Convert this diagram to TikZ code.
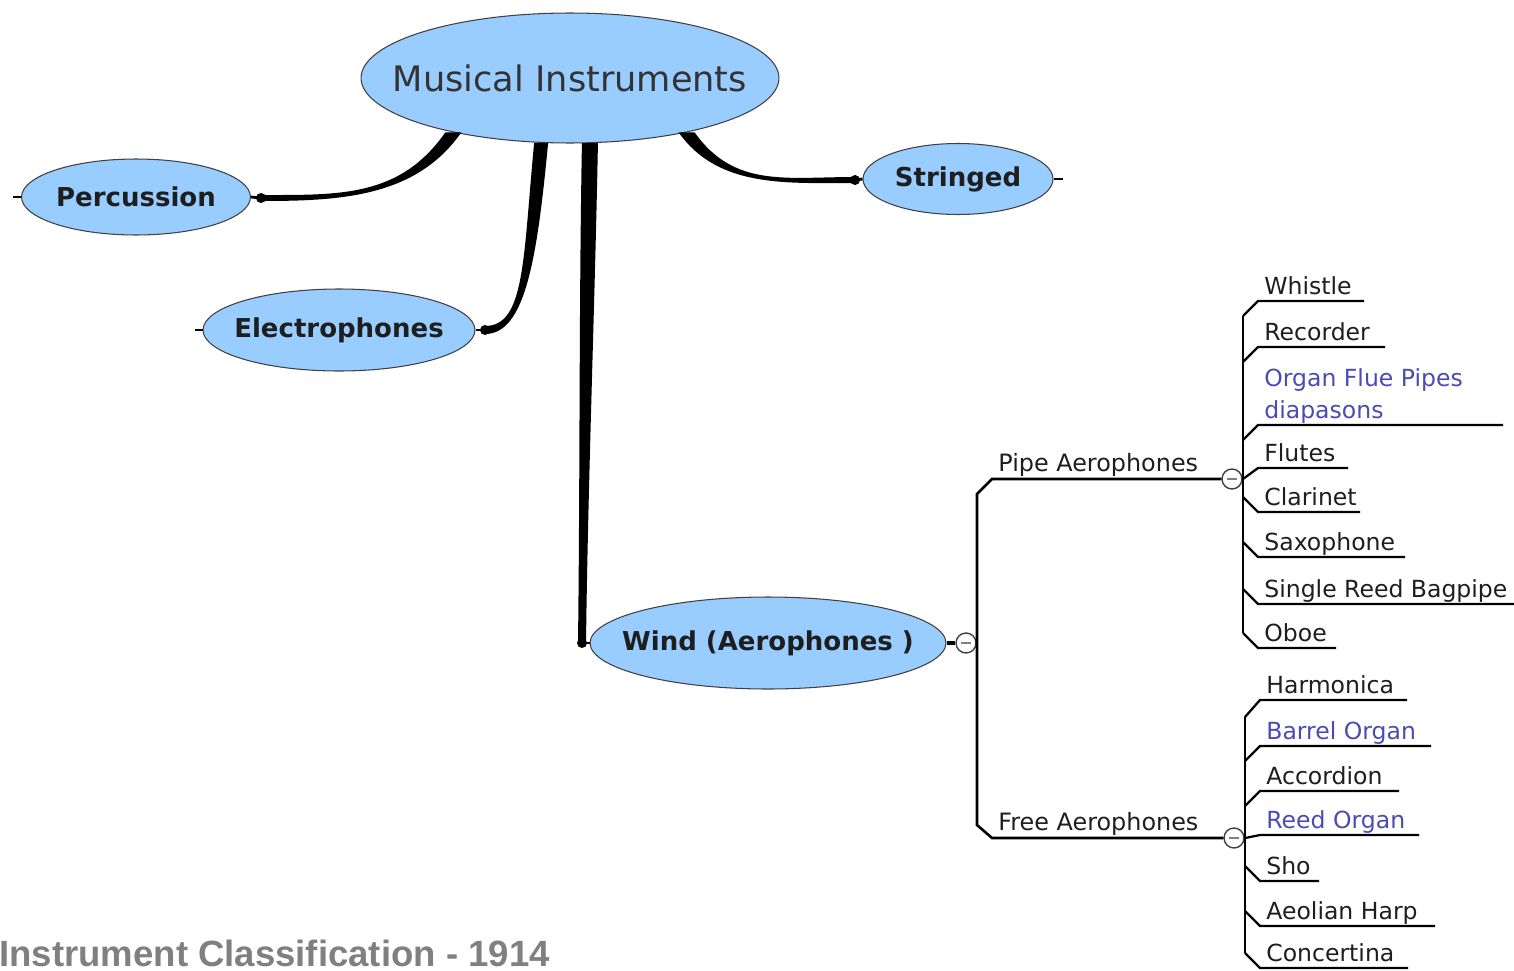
\documentclass[tikz,border=0pt]{standalone}
\usepackage{fontspec}
\setmainfont{DejaVu Sans}
\newfontfamily\capfont{Liberation Sans}
\usetikzlibrary{shapes.geometric,positioning,calc}
\definecolor{bubble}{HTML}{99CCFF}
\definecolor{linkblue}{HTML}{4B4BB4}
\definecolor{ink}{HTML}{1E1E1E}
\definecolor{capgray}{HTML}{808080}

% tapered branch: {from}{control 1}{control 2}{to}{half width at from}{half width at to}
\newcommand\taper[6]{%
  \fill ($(#1)+(#5)$) .. controls ($(#2)+(#5)$) and ($(#3)+(#6)$) .. ($(#4)+(#6)$)
    -- ($(#4)-(#6)$) .. controls ($(#3)-(#6)$) and ($(#2)-(#5)$) .. ($(#1)-(#5)$) -- cycle;}

\tikzset{
  topic/.style={ellipse, draw=black!75, line width=0.6pt, fill=bubble, inner sep=0pt, text=ink},
  subtopic/.style={topic, font=\bfseries\fontsize{14.8}{16}\selectfont},
  knob/.style={circle, fill=black, inner sep=0pt, minimum size=0.2cm},
  stub/.style={line width=1.6pt},
  toggle/.style={circle, draw=black!75, fill=white, line width=0.8pt, inner sep=0pt,
    minimum size=0.4cm,
    path picture={\draw[black!50, line width=1.6pt]
      ([xshift=-0.1cm]path picture bounding box.center) --
      ([xshift=0.1cm]path picture bounding box.center);}},
  twig/.style={line width=1.3pt},
  leaf/.style={anchor=base west, inner sep=0pt, align=left, text=ink,
    font=\fontsize{13.4}{18}\selectfont},
}

\begin{document}
\begin{tikzpicture}[x=0.02cm, y=-0.02cm]
  \useasboundingbox (0,0) rectangle (1514,970);

  % topics
  \node[topic, minimum width=8.36cm, minimum height=2.6cm, text=black!80,
    font=\fontsize{20}{24}\selectfont] (mi) at (570,78) {\makebox[0pt]{Musical Instruments}};
  \node[subtopic, minimum width=4.58cm, minimum height=1.52cm] (perc) at (136,197) {\makebox[0pt]{Percussion}};
  \node[subtopic, minimum width=3.8cm, minimum height=1.42cm] (string) at (958,179) {\makebox[0pt]{Stringed}};
  \node[subtopic, minimum width=5.44cm, minimum height=1.64cm] (elec) at (339,330) {\makebox[0pt]{Electrophones}};
  \node[subtopic, minimum width=7.12cm, minimum height=1.84cm] (wind) at (768,643) {\makebox[0pt]{Wind (Aerophones )}};

  % joints
  \node[knob] (kperc) at (261,198) {};
  \node[knob] (kstring) at (855,180) {};
  \node[knob] (kelec) at (485,330) {};
  \node[knob] (kwind) at (582,643) {};

  \taper{mi.205}{408,197}{341,198}{kperc.center}{-8,0}{0,-3}
  \taper{mi.335}{726,188}{786,180}{kstring.center}{8,0}{0,-3}
  \taper{mi.246}{530,260}{525,330}{kelec.center}{-7,0}{0,-4}
  \taper{mi.287}{587,300}{584,480}{kwind.center}{-8,0}{-4,0}
  \draw[stub] (kperc.center) -- (perc.east);
  \draw[stub] (kstring.center) -- (string.west);
  \draw[stub] (kelec.center) -- (elec.east);
  \draw[stub] (kwind.center) -- (wind.west);

  % collapsed ends
  \draw[stub] (perc.west) -- ++(-8,0);
  \draw[stub] (string.east) -- ++(9,0);
  \draw[stub] (elec.west) -- ++(-8,0);

  % wind sub-branches
  \node[toggle] (wtog) at (966,643) {};
  \node[toggle] (ptog) at (1232,479) {};
  \node[toggle] (ftog) at (1234,838) {};
  \node[leaf, font=\fontsize{13.6}{18}\selectfont] (pipe) at (998,471) {Pipe Aerophones};
  \node[leaf, font=\fontsize{13.6}{18}\selectfont] (free) at (998,830) {Free Aerophones};

  \draw[line width=2.4pt] (wind.east) -- (wtog.west);
  \draw[line width=1.5pt] (ptog.west) -- (992,479) -- (977,494) -- (977,825) -- (992,838) -- (ftog.west);

  % pipe aerophones
  \foreach \y/\s/\e/\c/\t in {
    301/316/1364/ink/Whistle,
    347/362/1385/ink/Recorder,
    425/440/1503/linkblue/Organ Flue Pipes\\diapasons,
    468/479/1348/ink/Flutes,
    512/497/1360/ink/Clarinet,
    557/542/1405/ink/Saxophone,
    604/589/1514/ink/Single Reed Bagpipe,
    648/633/1336/ink/Oboe}
  {
    \node[leaf, text=\c] (p\y) at (1264,\y-7) {\t};
    \draw[twig] (1243,\s) -- (1258,\y) -- (\e,\y);
  }
  \draw[twig] (ptog.east) -- (1243,479);
  \draw[twig] (1243,316) -- (1243,633);

  % free aerophones
  \foreach \y/\s/\e/\c/\t in {
    700/717/1407/ink/Harmonica,
    746/761/1431/linkblue/Barrel Organ,
    791/806/1399/ink/Accordion,
    835/838/1419/linkblue/Reed Organ,
    881/866/1319/ink/Sho,
    926/911/1435/ink/Aeolian Harp,
    968/953/1408/ink/Concertina}
  {
    \node[leaf, text=\c] (f\y) at (1266,\y-7) {\t};
    \draw[twig] (1245,\s) -- (1260,\y) -- (\e,\y);
  }
  \draw[twig] (ftog.east) -- (1245,838);
  \draw[twig] (1245,717) -- (1245,953);

  \node[anchor=base west, inner sep=0pt, text=capgray,
    font=\capfont\bfseries\fontsize{20.8}{24}\selectfont] (title) at (-1,966)
    {Instrument Classification - 1914};
\end{tikzpicture}
\end{document}
